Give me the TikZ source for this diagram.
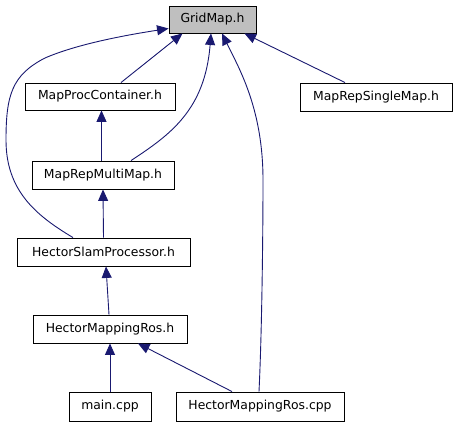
\documentclass[tikz,border=0pt]{standalone}
\usepackage{fontspec}
\setmainfont{DejaVu Sans}
\usetikzlibrary{arrows.meta,calc}
\definecolor{edgeblue}{HTML}{191970}
\definecolor{boxgray}{HTML}{BFBFBF}
\tikzset{
  filebox/.style={draw=black, line width=0.9pt, fill=white, inner sep=0pt, minimum height=28pt,
    font=\fontsize{12.4}{14}\selectfont},
  edge/.style={draw=edgeblue, line width=0.9pt, -{Triangle[length=11.5pt,width=10pt]}}
}
\begin{document}
\begin{tikzpicture}[x=1pt,y=-1pt]
\useasboundingbox (0,0) rectangle (456,427);
\node[filebox, fill=boxgray, minimum width=87pt, minimum height=27pt] (grid) at (212.5,19.5) {GridMap.h};
\node[filebox, minimum width=150pt, minimum height=27pt] (mpc) at (100,96.5) {MapProcContainer.h};
\node[filebox, minimum width=152pt] (mrsm) at (376,97) {MapRepSingleMap.h};
\node[filebox, minimum width=142pt] (mrmm) at (103,175) {MapRepMultiMap.h};
\node[filebox, minimum width=173pt] (hsp) at (103.5,252) {HectorSlamProcessor.h};
\node[filebox, minimum width=154pt] (hmr) at (110,329) {HectorMappingRos.h};
\node[filebox, minimum width=82pt, minimum height=29pt] (main) at (110,406.5) {main.cpp};
\node[filebox, minimum width=168pt, minimum height=29pt] (hmrcpp) at (260,406.5) {HectorMappingRos.cpp};

% edges to GridMap.h
\draw[edge] ($(mpc.north)+(21,0)$) -- ($(grid.south)+(-30,0)$);
\draw[edge] ($(mrsm.north)+(-31,0)$) -- ($(grid.south)+(32,0)$);
\draw[edge] ($(mrmm.north)+(28,0)$) .. controls (170,135) and (205,110) .. ($(grid.south)+(-1.5,0)$);
\draw[edge] ($(hsp.north)+(-30.5,0)$) .. controls (35,215) and (6,190) .. (6,140)
  .. controls (6,95) and (12,75) .. (45,58)
  .. controls (75,45) and (120,36) .. ($(grid.west)+(0,9)$);
\draw[edge] ($(hmrcpp.north)+(-1,0)$) .. controls (262,330) and (263,230) .. (263,180)
  .. controls (263,110) and (240,70) .. ($(grid.south)+(9.5,0)$);

% chain
\draw[edge] ($(mrmm.north)+(-1.5,0)$) -- ($(mpc.south)+(1.5,0)$);
\draw[edge] (hsp.north) -- (mrmm.south);
\draw[edge] ($(hmr.north)+(-1,0)$) -- ($(hsp.south)+(2.5,0)$);
\draw[edge] (main.north) -- (hmr.south);
\draw[edge] ($(hmrcpp.north)+(-28,0)$) -- ($(hmr.south)+(28,0)$);
\end{tikzpicture}
\end{document}
